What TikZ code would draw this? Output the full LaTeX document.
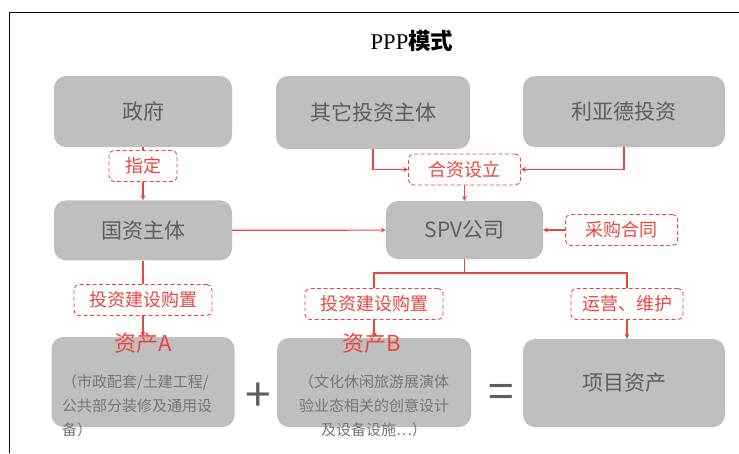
\documentclass[tikz,border=0pt]{standalone}
\usepackage{fontspec}
\setmainfont{Noto Sans CJK SC}
\newfontfamily\titlefont{Liberation Serif}
\usetikzlibrary{arrows, positioning}
\definecolor{boxgray}{HTML}{BFBFBF}
\definecolor{boxtext}{HTML}{5E5E5E}
\definecolor{notetext}{HTML}{767676}
\definecolor{linkred}{HTML}{E8473E}

\begin{document}
\begin{tikzpicture}[x=1pt, y=-1pt,
	node distance=53pt,
	block/.style={fill=boxgray, rounded corners=12pt, inner sep=0pt, text=boxtext,
		font=\fontsize{21}{24}\selectfont, text centered},
	tag/.style={draw=linkred, dash pattern=on 4pt off 2.5pt, fill=white, rounded corners=5pt,
		line width=0.9pt, minimum height=31pt, inner sep=0pt, text=linkred,
		font=\fontsize{18}{20}\selectfont},
	link/.style={draw=linkred, line width=1.2pt},
	note/.style={text=notetext, inner sep=0pt, font=\fontsize{15}{24}\selectfont},
	assetcap/.style={text=linkred, inner sep=0pt, font=\fontsize{22}{24}\selectfont},
	sign/.style={text=boxtext, inner sep=0pt, font=\fontsize{46}{46}\selectfont}
	]
\useasboundingbox (0,0) rectangle (739,453);
\draw[line width=0.9pt] (9,453) -- (9,12) -- (739,12);

\node[font=\fontsize{22.5}{24}\selectfont] (title) at (412,41) {{\titlefont PPP}{\bfseries 模式}};

\node[block, minimum width=178pt, minimum height=71pt] (gov) at (143,111.5) {政府};
\node[block, minimum width=194pt, minimum height=73pt] (other) at (373,112.5) {其它投资主体};
\node[block, minimum width=202pt, minimum height=71pt] (lyd) at (624,111.5) {利亚德投资};
\node[block, minimum width=178pt, minimum height=60pt, below=of gov] (gz) {国资主体};
\node[block, minimum width=157pt, minimum height=58pt] (spv) at (464.5,230) {SPV公司};
\node[block, minimum width=183pt, minimum height=90pt] (assetA) at (143,382) {};
\node[block, minimum width=194pt, minimum height=89pt] (assetB) at (374,382.5) {};
\node[block, minimum width=202pt, minimum height=88pt] (xm) at (624,383) {项目资产};

\node[tag, minimum width=68pt] (tagGov) at (143,166) {指定};
\node[tag, minimum width=112pt] (tagJV) at (464.5,169.5) {合资设立};
\node[tag, minimum width=112pt, right=22pt of spv] (tagBuy) {采购合同};
\node[tag, minimum width=138pt] (tagA) at (143,300) {投资建设购置};
\node[tag, minimum width=138pt] (tagB) at (374,304) {投资建设购置};
\node[tag, minimum width=112pt] (tagOps) at (627,304) {运营、维护};
\coordinate (fork) at (464.5,273);

\draw[link] (gov) -- (tagGov);
\draw[link, -stealth] (tagGov) -- (gz);
\draw[link, -stealth] (other) |- (tagJV);
\draw[link, -stealth] (lyd) |- (tagJV);
\draw[link, -stealth] (tagJV) -- (spv);
\draw[link, -stealth] (gz) -- (spv);
\draw[link, -stealth] (tagBuy) -- (spv);
\draw[link] (spv) -- (fork);
\draw[link] (tagB) |- (fork) -| (tagOps);
\draw[link] (gz) -- (tagA);
\draw[link, -stealth] (tagA) -- (assetA);
\draw[link, -stealth] (tagB) -- (assetB);
\draw[link, -stealth] (tagOps) -- (tagOps |- xm.north);

\node[assetcap] (capA) at (143,343) {资产A};
\node[assetcap] (capB) at (372,343) {资产B};
\node[note, align=left] (noteA) at (137,406) {（市政配套/土建工程/\\公共部分装修及通用设\\备）};
\node[note, align=center] (noteB) at (374,406) {（文化休闲旅游展演体\\验业态相关的创意设计\\及设备设施…）};
\node[sign] (plus) at (258,397) {+};
\node[sign] (equals) at (501,396) {=};
\end{tikzpicture}
\end{document}
